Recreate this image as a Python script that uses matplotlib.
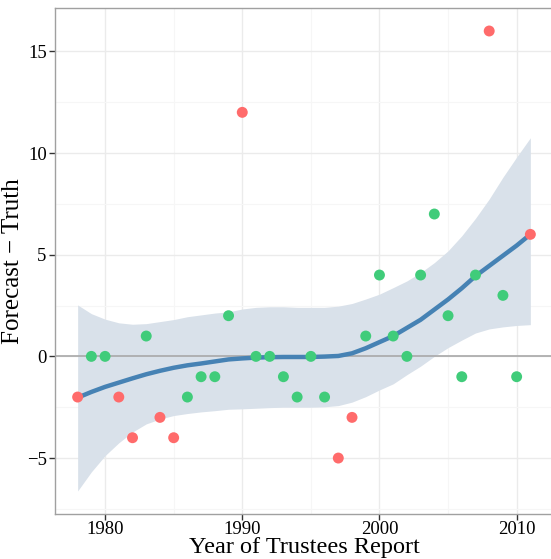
import numpy as np
import matplotlib
matplotlib.use('Agg')
from matplotlib import pyplot as plt
from matplotlib.ticker import MultipleLocator

# Trustees report year, forecast minus truth, and colour group
years = list(range(1978, 2012))
diffs = [-2, 0, 0, -2, -4, 1, -3, -4, -2, -1, -1, 2, 12, 0, 0, -1, -2,
         0, -2, -5, -3, 1, 4, 1, 0, 4, 7, 2, -1, 4, 16, 3, -1, 6]
red_years = [1978, 1981, 1982, 1984, 1985, 1990, 1997, 1998, 2008, 2011]
group = ['red' if yr in red_years else 'green' for yr in years]
group_colors = {'red': '#FF6B6B', 'green': '#40CC7A'}

# smoother and its 95% band at each year
smooth_fit = [-2.03, -1.75, -1.5, -1.29, -1.08, -0.88, -0.71, -0.56, -0.44,
              -0.35, -0.25, -0.15, -0.1, -0.06, -0.04, -0.03, -0.03, -0.03,
              -0.01, 0.02, 0.15, 0.4, 0.7, 1.0, 1.4, 1.8, 2.3, 2.8, 3.35,
              3.95, 4.45, 4.95, 5.45, 6.0]
smooth_lo = [-6.62, -5.68, -4.88, -4.25, -3.72, -3.32, -3.08, -2.91, -2.81,
             -2.73, -2.67, -2.6, -2.58, -2.55, -2.52, -2.5, -2.5, -2.5,
             -2.48, -2.42, -2.25, -1.98, -1.65, -1.35, -0.9, -0.48, 0.0,
             0.43, 0.8, 1.15, 1.35, 1.45, 1.52, 1.56]
smooth_hi = [2.53, 2.1, 1.83, 1.65, 1.58, 1.61, 1.71, 1.81, 1.95, 2.04, 2.13,
             2.19, 2.33, 2.41, 2.44, 2.44, 2.41, 2.41, 2.41, 2.47, 2.6, 2.82,
             3.06, 3.38, 3.71, 4.12, 4.61, 5.19, 5.93, 6.79, 7.74, 8.81, 9.8,
             10.75]

plt.rcParams['font.family'] = ['Liberation Serif', 'DejaVu Serif']
fig = plt.figure(figsize=(5.51, 5.59), dpi=100)
ax = fig.add_axes([55/551, 45/559, 498/551, 506/559])

ax.fill_between(years, smooth_lo, smooth_hi, color='#D9E1EA', lw=0, zorder=1)
ax.axhline(0, color='#A8A8A8', lw=1.2, zorder=2)
ax.plot(years, smooth_fit, color='#4682B4', lw=3.2, zorder=3,
        solid_capstyle='butt', solid_joinstyle='round')
ax.scatter(years, diffs, c=[group_colors[g] for g in group], s=62, lw=0,
           zorder=4)

ax.margins(x=0.05, y=0.05)
ax.xaxis.set_major_locator(MultipleLocator(10))
ax.xaxis.set_minor_locator(MultipleLocator(5))
ax.yaxis.set_major_locator(MultipleLocator(5))
ax.yaxis.set_minor_locator(MultipleLocator(2.5))
ax.grid(which='major', color='#EBEBEB', lw=1.0, zorder=0)
ax.grid(which='minor', color='#F6F6F6', lw=0.8, zorder=0)
ax.set_axisbelow(True)
for s in ax.spines.values():
    s.set_color('#A0A0A0')
    s.set_linewidth(1.0)
ax.tick_params(which='major', length=4, width=1, color='#333333',
               labelsize=13.5, pad=2)
ax.tick_params(axis='x', pad=1)
ax.tick_params(which='minor', length=0)
ax.set_xlabel('Year of Trustees Report', fontsize=17.5, labelpad=-1)
ax.set_ylabel('Forecast \u2212 Truth', fontsize=18, labelpad=2)

fig.savefig('out.png', dpi=100)
